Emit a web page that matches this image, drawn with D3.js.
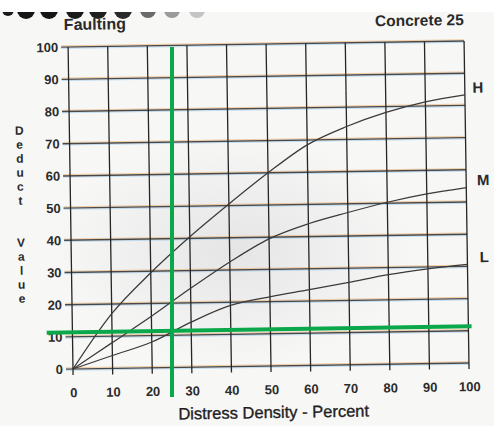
<!DOCTYPE html>
<html>
<head>
<meta charset="utf-8">
<script src="https://cdn.jsdelivr.net/npm/d3@7/dist/d3.min.js"></script>
<style>
  html, body { margin: 0; padding: 0; background: #f7f7f6; }
  svg { display: block; }
  text { font-family: "Liberation Sans", Arial, sans-serif; }
</style>
</head>
<body>
<svg id="chart" width="494" height="426"></svg>
<script>
// Deduct value curves for concrete joint faulting (low / medium / high severity)
const densities = [0, 10, 20, 30, 40, 50, 60, 70, 80, 90, 100];
const highSeverity   = [0, 17, 29.5, 40.5, 50.5, 60, 68.5, 74, 78.2, 81.3, 83.3];
const mediumSeverity = [0, 8, 16, 24.5, 32.5, 39.5, 44, 47.3, 50.3, 52.7, 54.5];
const lowSeverity    = [0, 4, 8, 14, 19, 21.5, 23.5, 25.6, 27.8, 29.4, 30.6];
const severityLabels = ["H", "M", "L"];

const xTicks = [0, 10, 20, 30, 40, 50, 60, 70, 80, 90, 100];
const yTicks = [0, 10, 20, 30, 40, 50, 60, 70, 80, 90, 100];

const chartTitle = "Faulting";
const sheetLabel = "Concrete 25";
const xTitle = "Distress Density - Percent";
const yTitle = "Deduct  Value";

// reading guide drawn over the chart
const guideDensity = 25;
const guideDeduct = 11.4;

const svg = d3.select("#chart");
const plotLeft = 73, plotRight = 469, plotTop = 47, plotBottom = 369;

const x = d3.scaleLinear().domain([0, 100]).range([plotLeft, plotRight]);
const y = d3.scaleLinear().domain([0, 100]).range([plotBottom, plotTop]);

// soft grey shading across the middle of the sheet
const defs = svg.append("defs");
const shade = defs.append("radialGradient").attr("id", "shade")
  .attr("cx", "50%").attr("cy", "50%").attr("r", "50%");
shade.append("stop").attr("offset", "0%").attr("stop-color", "#c4c4c8").attr("stop-opacity", 0.35);
shade.append("stop").attr("offset", "100%").attr("stop-color", "#c4c4c8").attr("stop-opacity", 0);
svg.append("rect").attr("width", 494).attr("height", 426).attr("fill", "#f7f7f6");
svg.append("ellipse").attr("cx", 235).attr("cy", 250).attr("rx", 180).attr("ry", 115)
  .attr("fill", "url(#shade)");

// punched holes along the top edge
const holes = [
  {cx: 8, r: 6, c: "#1a1a1a"}, {cx: 26, r: 9, c: "#151515"}, {cx: 49, r: 9, c: "#151515"},
  {cx: 75, r: 9, c: "#1a1a1a"}, {cx: 98, r: 9, c: "#1f1f1f"}, {cx: 123, r: 9, c: "#2a2a2a"},
  {cx: 148, r: 8, c: "#6a6a6a"}, {cx: 172, r: 8, c: "#9a9a9a"}, {cx: 197, r: 8, c: "#c4c4c4"}
];
svg.append("g").selectAll("circle").data(holes).join("circle")
  .attr("cx", d => d.cx).attr("cy", 10).attr("r", d => d.r).attr("fill", d => d.c);
svg.append("rect").attr("x", 0).attr("y", 0).attr("width", 494).attr("height", 12).attr("fill", "#ffffff");

// the sheet sits slightly askew
const sheet = svg.append("g").attr("transform", `rotate(-0.87, ${plotLeft}, ${plotBottom})`);

// horizontal grid with faint colour fringes
const hGrid = sheet.append("g");
yTicks.forEach(v => {
  const yy = y(v);
  hGrid.append("line").attr("x1", plotLeft - 7).attr("x2", plotRight).attr("y1", yy - 1.3).attr("y2", yy - 1.3)
    .attr("stroke", "#eeb67a").attr("stroke-width", 0.9).attr("opacity", 0.75);
  hGrid.append("line").attr("x1", plotLeft - 7).attr("x2", plotRight).attr("y1", yy + 1.3).attr("y2", yy + 1.3)
    .attr("stroke", "#a6cfee").attr("stroke-width", 0.9).attr("opacity", 0.75);
  hGrid.append("line").attr("x1", plotLeft - 7).attr("x2", plotRight).attr("y1", yy).attr("y2", yy)
    .attr("stroke", "#484848").attr("stroke-width", 1.4);
});

// vertical grid
sheet.append("g").selectAll("line").data(xTicks).join("line")
  .attr("x1", d => x(d)).attr("x2", d => x(d))
  .attr("y1", y(100)).attr("y2", y(0) + 6)
  .attr("stroke", "#262626").attr("stroke-width", 1.3);

// axes: labels only, the grid supplies the lines
const xAxis = sheet.append("g").attr("transform", `translate(0,${plotBottom})`)
  .call(d3.axisBottom(x).tickValues(xTicks).tickSize(0).tickPadding(19).tickFormat(d3.format("d")));
const yAxis = sheet.append("g").attr("transform", `translate(${plotLeft},0)`)
  .call(d3.axisLeft(y).tickValues(yTicks).tickSize(0).tickPadding(10).tickFormat(d3.format("d")));
[xAxis, yAxis].forEach(a => {
  a.select(".domain").remove();
  a.selectAll("text").attr("fill", "#2b2b2b")
    .style("font-size", "13px").style("font-weight", "bold")
    .style("font-family", "'Liberation Sans', Arial, sans-serif");
});

// severity curves
const series = [highSeverity, mediumSeverity, lowSeverity];
const line = d3.line().x(d => x(d[0])).y(d => y(d[1])).curve(d3.curveMonotoneX);
sheet.append("g").selectAll("path").data(series).join("path")
  .attr("d", s => line(densities.map((d, i) => [d, s[i]])))
  .attr("fill", "none").attr("stroke", "#3a3a3a").attr("stroke-width", 1.25);

// severity labels at the curve ends
const labelDx = [13, 17, 17];
sheet.append("g").selectAll("text").data(series).join("text")
  .attr("x", (s, i) => x(100) + labelDx[i])
  .attr("y", (s, i) => y(s[s.length - 1]) - 2)
  .attr("text-anchor", "middle")
  .attr("fill", "#2a2a2a").style("font-size", "15px").style("font-weight", "bold")
  .text((s, i) => severityLabels[i]);

// titles
sheet.append("text").attr("x", 69).attr("y", 30)
  .attr("fill", "#2a2a2a").style("font-size", "16px").style("font-weight", "bold")
  .text(chartTitle);
sheet.append("text").attr("x", 469).attr("y", 31).attr("text-anchor", "end")
  .attr("fill", "#2a2a2a").style("font-size", "15.5px").style("font-weight", "bold")
  .text(sheetLabel);
sheet.append("text").attr("x", (plotLeft + plotRight) / 2 + 2).attr("y", 421).attr("text-anchor", "middle")
  .attr("fill", "#1e1e1e").attr("stroke", "#1e1e1e").attr("stroke-width", 0.35)
  .style("font-size", "16.5px")
  .text(xTitle);

// stacked vertical axis title
const yt = sheet.append("text").attr("text-anchor", "middle")
  .attr("fill", "#2a2a2a").style("font-size", "12px").style("font-weight", "bold");
yTitle.split("").forEach((ch, i) => {
  yt.append("tspan").attr("x", 23).attr("y", 134 + i * 14).text(ch === " " ? "\u00a0" : ch);
});

// green reading guide
svg.append("line").attr("x1", x(guideDensity)).attr("x2", x(guideDensity))
  .attr("y1", y(100)).attr("y2", 397)
  .attr("stroke", "#0aa84a").attr("stroke-width", 4);
sheet.append("line").attr("x1", x(-6.5)).attr("x2", x(100.8))
  .attr("y1", y(guideDeduct)).attr("y2", y(guideDeduct))
  .attr("stroke", "#0aa84a").attr("stroke-width", 4);
</script>
</body>
</html>
